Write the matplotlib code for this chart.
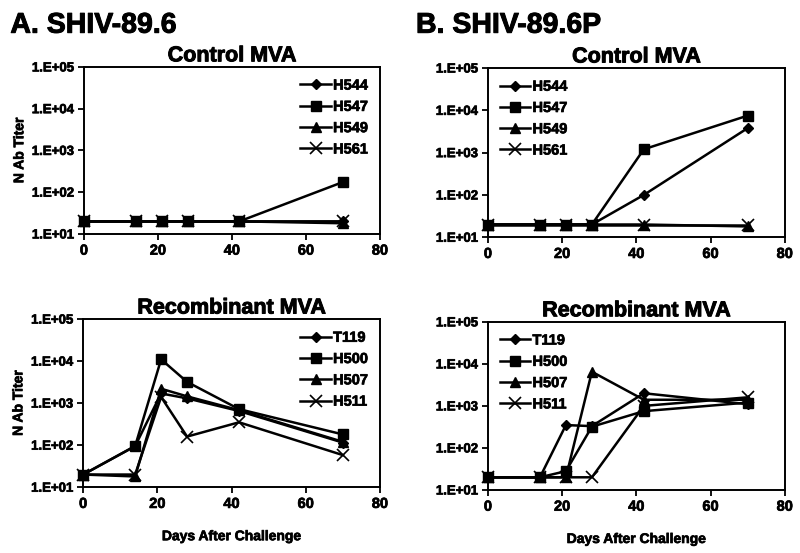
import matplotlib
matplotlib.use("Agg")
import matplotlib.pyplot as plt
import matplotlib.patheffects as pe

days = [0, 14, 21, 28, 42, 70]

# A. SHIV-89.6
a_ctrl_names = ["H544", "H547", "H549", "H561"]
a_ctrl_h544 = [20, 20, 20, 20, 20, 20]
a_ctrl_h547 = [20, 20, 20, 20, 20, 175]
a_ctrl_h549 = [20, 20, 20, 20, 20, 18]
a_ctrl_h561 = [20, 20, 20, 20, 20, 20]

a_rec_names = ["T119", "H500", "H507", "H511"]
a_rec_t119 = [20, 95, 1700, 1300, 650, 115]
a_rec_h500 = [20, 95, 11000, 3200, 720, 180]
a_rec_h507 = [20, 18, 2200, 1450, 680, 120]
a_rec_h511 = [20, 20, 1400, 160, 350, 58]

# B. SHIV-89.6P
b_ctrl_names = ["H544", "H547", "H549", "H561"]
b_ctrl_h544 = [20, 20, 20, 20, 100, 3800]
b_ctrl_h547 = [20, 20, 20, 20, 1200, 7500]
b_ctrl_h549 = [20, 20, 20, 20, 20, 18]
b_ctrl_h561 = [20, 20, 20, 20, 20, 20]

b_rec_names = ["T119", "H500", "H507", "H511"]
b_rec_t119 = [20, 20, 350, 330, 2000, 1100]
b_rec_h500 = [20, 20, 28, 320, 750, 1200]
b_rec_h507 = [20, 20, 20, 6500, 1400, 1400]
b_rec_h511 = [20, 20, 20, 20, 1000, 1600]

yticks = [1e1, 1e2, 1e3, 1e4, 1e5]
ytick_labels = ["1.E+01", "1.E+02", "1.E+03", "1.E+04", "1.E+05"]
xticks = [0, 20, 40, 60, 80]

plt.rcParams.update({"font.family": ["Liberation Sans", "DejaVu Sans"],
                     "font.weight": "bold"})

HEAVY = [pe.withStroke(linewidth=0.5, foreground="black")]
HEAVY2 = [pe.withStroke(linewidth=0.7, foreground="black")]

STYLES = [dict(marker="D", ms=5.5),
          dict(marker="s", ms=7),
          dict(marker="^", ms=7.5),
          dict(marker="x", ms=8, mew=1.2)]


def panel(ax, series, names, title, legend_loc, ylabel=False, xlabel=False):
    for vals, name, st in zip(series, names, STYLES):
        ax.plot(days, vals, color="black", lw=1.8, mfc="black", mec="black",
                label=name, clip_on=False, zorder=3, **st)
    ax.set_yscale("log")
    ax.set_ylim(1e1, 1e5)
    ax.set_xlim(0, 80)
    ax.set_yticks(yticks, ytick_labels)
    ax.minorticks_off()
    ax.set_xticks(xticks)
    ax.tick_params(direction="out", length=4, width=1.3, pad=3)
    ax.tick_params(axis="x", labelsize=10.5)
    ax.tick_params(axis="y", labelsize=9.5)
    for lab in ax.get_xticklabels() + ax.get_yticklabels():
        lab.set_fontweight("bold")
        lab.set_path_effects(HEAVY)
    for s in ax.spines.values():
        s.set_linewidth(1.4)
    t = ax.set_title(title, fontsize=15.5, fontweight="bold", pad=4)
    t.set_path_effects(HEAVY2)
    if ylabel:
        yl = ax.set_ylabel("N Ab Titer", fontsize=10, fontweight="bold")
        yl.set_path_effects(HEAVY)
        ax.yaxis.set_label_coords(-0.195, 0.5)
    if xlabel:
        xl = ax.set_xlabel("Days After Challenge", fontsize=10,
                           fontweight="bold", va="top")
        xl.set_path_effects(HEAVY)
        ax.xaxis.set_label_coords(0.5, -0.25)
    leg = ax.legend(loc=legend_loc, frameon=False, handlelength=2.1,
                    handletextpad=0.15, labelspacing=0.5, borderaxespad=0.4,
                    prop={"weight": "bold", "size": 10.5})
    for txt in leg.get_texts():
        txt.set_path_effects(HEAVY)


fig = plt.figure(figsize=(8.0, 5.53), dpi=100)
ax1 = fig.add_axes([0.105, 0.577, 0.37, 0.302])
ax2 = fig.add_axes([0.61, 0.571, 0.371, 0.306])
ax3 = fig.add_axes([0.104, 0.119, 0.371, 0.304])
ax4 = fig.add_axes([0.61, 0.114, 0.371, 0.304])

panel(ax1, [a_ctrl_h544, a_ctrl_h547, a_ctrl_h549, a_ctrl_h561], a_ctrl_names,
      "Control MVA", "upper right", ylabel=True)
panel(ax2, [b_ctrl_h544, b_ctrl_h547, b_ctrl_h549, b_ctrl_h561], b_ctrl_names,
      "Control MVA", "upper left")
panel(ax3, [a_rec_t119, a_rec_h500, a_rec_h507, a_rec_h511], a_rec_names,
      "Recombinant MVA", "upper right", ylabel=True, xlabel=True)
panel(ax4, [b_rec_t119, b_rec_h500, b_rec_h507, b_rec_h511], b_rec_names,
      "Recombinant MVA", "upper left", xlabel=True)

for x, label in [(0.013, "A. SHIV-89.6"), (0.52, "B. SHIV-89.6P")]:
    fig.text(x, 0.977, label, fontsize=20.5, fontweight="bold",
             ha="left", va="top", path_effects=HEAVY2)

fig.savefig("out.png", dpi=100)
